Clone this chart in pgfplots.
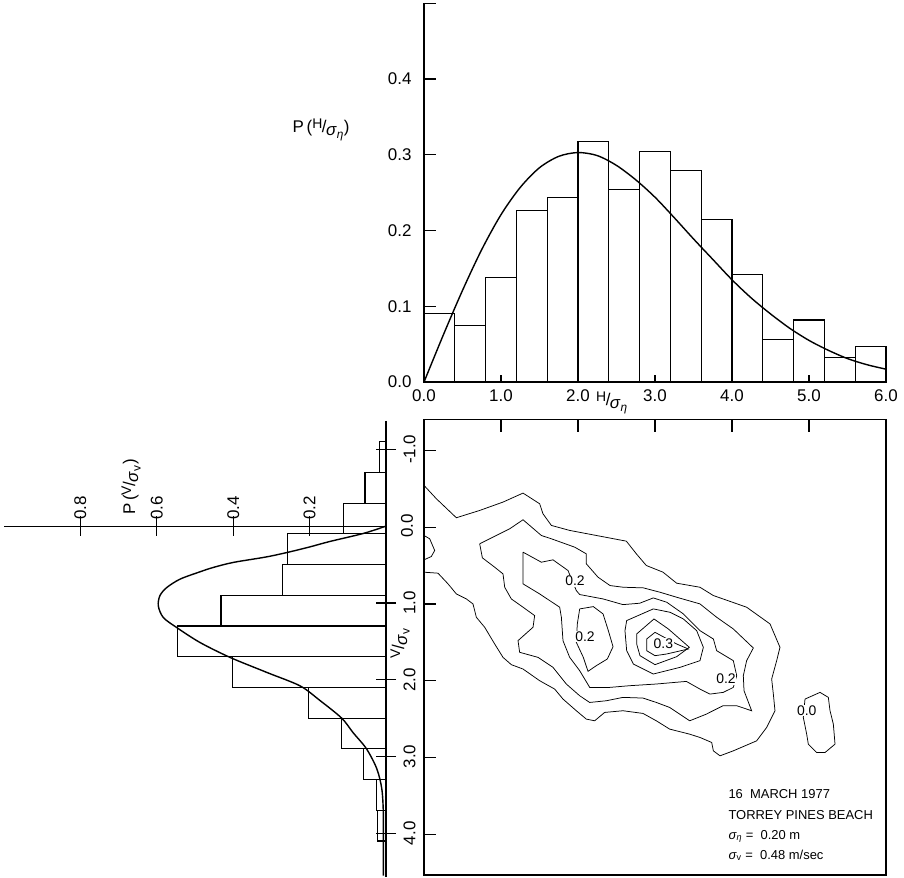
\documentclass[border=0pt]{standalone}
\usepackage{fontspec}
\setmainfont{Liberation Sans}
\usepackage{pgfplots}
\pgfplotsset{compat=1.18}
\newcommand{\fs}[1]{\fontsize{#1}{#1}\selectfont}
\tikzset{cont/.style={black, line width=0.75bp, mark=none}}
\begin{document}
\begin{tikzpicture}
\path (0,0) rectangle (904bp,-877bp);

% ---------------- top histogram P(H/sigma_eta) ----------------
\begin{axis}[
  at={(655bp,-192.6bp)}, anchor=center,
  scale only axis, width=462bp, height=378.75bp,
  xmin=0, xmax=6, ymin=0, ymax=0.5,
  axis x line*=bottom, axis y line*=left,
  axis line style={line width=1.2bp, black},
  xtick={0,1,2,3,4,5,6}, xticklabels={0.0,1.0,2.0,3.0,4.0,5.0,6.0},
  ytick={0,0.1,0.2,0.3,0.4,0.5}, yticklabels={0.0,0.1,0.2,0.3,0.4,{}},
  tick align=inside,
  xtick style={line width=1.2bp, black, /pgfplots/major tick length=7bp},
  ytick style={line width=1.2bp, black, /pgfplots/major tick length=12bp},
  tick label style={font=\fs{17}},
  yticklabel style={xshift=-9bp},
  xticklabel style={yshift=-4bp},
  clip=false,
]
\addplot[ybar interval, draw=black, fill=none, line width=1.1bp] coordinates {
(0,0.090) (0.4,0.075) (0.8,0.138) (1.2,0.226) (1.6,0.244) (2.0,0.318) (2.4,0.254) (2.8,0.304) (3.2,0.279) (3.6,0.215) (4.0,0.142) (4.4,0.056) (4.8,0.082) (5.2,0.032) (5.6,0.047) (6.0,0)};
\addplot[black, line width=1.4bp, smooth, mark=none] coordinates {
(0,0) (0.25,0.062) (0.5,0.121) (0.75,0.175) (1.0,0.221) (1.25,0.257) (1.5,0.283) (1.75,0.298) (2.0,0.303) (2.25,0.299) (2.5,0.286) (2.75,0.267) (3.0,0.244) (3.25,0.217) (3.5,0.189) (3.75,0.162) (4.0,0.135) (4.25,0.111) (4.5,0.090) (4.75,0.071) (5.0,0.055) (5.25,0.042) (5.5,0.031) (5.75,0.023) (6.0,0.017)};
\end{axis}

% ---------------- left histogram P(V/sigma_v) ----------------
\begin{axis}[
  at={(195bp,-648.9bp)}, anchor=center,
  scale only axis, width=382bp, height=456.2bp,
  xmin=0, xmax=1.0, x dir=reverse,
  ymin=-1.37, ymax=4.57, y dir=reverse,
  axis lines*=center,
  axis line style={line width=1.2bp, black},
  xtick={0.2,0.4,0.6,0.8}, xticklabels={0.2,0.4,0.6,0.8},
  ytick={-1,0,1,2,3,4}, yticklabels={-1.0,0.0,1.0,2.0,3.0,4.0},
  tick align=center, major tick length=20bp,
  tick style={line width=1.2bp, black},
  tick label style={font=\fs{17}},
  xticklabel style={rotate=90, anchor=west, xshift=13bp},
  yticklabel style={rotate=90, anchor=north, yshift=-24bp},
  clip=false,
]
\addplot[xbar interval, draw=black, fill=none, line width=1.1bp] coordinates {
(0.016,-1.1) (0.055,-0.7) (0.111,-0.3) (0.258,0.1) (0.270,0.5) (0.432,0.9) (0.545,1.3) (0.402,1.7) (0.202,2.1) (0.116,2.5) (0.059,2.9) (0.024,3.3) (0.022,3.7) (0,4.1)};
\addplot[black, line width=1.4bp, smooth, mark=none] coordinates {
(0,0) (0.059,0.095) (0.147,0.20) (0.199,0.27) (0.251,0.334) (0.312,0.40) (0.40,0.473) (0.452,0.538) (0.487,0.595) (0.539,0.69) (0.574,0.80) (0.592,0.907) (0.596,1.04) (0.583,1.19) (0.548,1.32) (0.487,1.515) (0.408,1.71) (0.312,1.905) (0.225,2.08) (0.173,2.27) (0.116,2.50) (0.086,2.69) (0.051,2.90) (0.024,3.16) (0.011,3.42) (0.007,3.73) (0.007,4.16) (0.007,4.55)};
\node[xshift=21bp, rotate=90, font=\fs{17}] at (axis cs:0,0) {0.0};
\end{axis}

% ---------------- joint contour plot ----------------
\begin{axis}[
  at={(655bp,-647.2bp)}, anchor=center,
  scale only axis, width=462bp, height=455.4bp,
  xmin=0, xmax=6, ymin=-1.40, ymax=4.53, y dir=reverse,
  axis line style={line width=1.2bp, black},
  xtick={1,2,3,4,5}, ytick={-1,0,1,2,3,4},
  xticklabels={}, yticklabels={},
  xtick pos=right, ytick pos=left,
  tick align=inside, major tick length=12bp,
  tick style={line width=1.2bp, black},
  clip=false,
]
% outer contour
\addplot[cont] coordinates {(0,-0.543) (0.160,-0.370) (0.420,-0.122) (0.723,-0.217) (1.026,-0.326) (1.286,-0.443) (1.502,-0.304) (1.545,-0.174) (1.654,-0.022) (1.892,0.043) (2.628,0.183) (2.758,0.348) (2.887,0.500) (3.104,0.587) (3.281,0.730) (3.584,0.783) (3.758,0.891) (4.190,1.043) (4.494,1.261) (4.623,1.565) (4.580,1.739) (4.515,1.978) (4.537,2.174) (4.558,2.391) (4.450,2.609) (4.320,2.783) (4.017,2.913) (3.844,2.978) (3.758,2.913) (3.736,2.804) (3.584,2.739) (3.450,2.696) (3.190,2.630) (3.017,2.522) (2.844,2.426) (2.584,2.391) (2.346,2.413) (2.216,2.522) (2.108,2.500) (1.978,2.391) (1.805,2.239) (1.697,2.109) (1.502,2.000) (1.286,1.848) (1.134,1.791) (1.026,1.696) (0.918,1.522) (0.788,1.304) (0.680,1.174) (0.636,1.000) (0.550,0.935) (0.420,0.870) (0.312,0.739) (0.182,0.600) (0,0.587)};
% small contour at left edge
\addplot[cont] coordinates {(0,0.109) (0.074,0.152) (0.139,0.304) (0.095,0.383) (0,0.426)};
% second contour
\addplot[cont] coordinates {(0.723,0.217) (0.853,0.152) (1.113,0.022) (1.286,-0.096) (1.524,0.109) (1.654,0.152) (1.957,0.261) (2.108,0.348) (2.108,0.478) (2.260,0.652) (2.416,0.761) (2.589,0.783) (2.848,0.791) (3.065,0.848) (3.281,0.913) (3.584,1.000) (3.801,1.174) (4.017,1.326) (4.277,1.574) (4.190,1.739) (4.147,1.935) (4.156,2.130) (4.255,2.391) (4.061,2.326) (3.883,2.326) (3.667,2.435) (3.450,2.522) (3.190,2.348) (3.017,2.283) (2.844,2.226) (2.584,2.217) (2.368,2.261) (2.152,2.283) (2.022,2.196) (1.848,2.043) (1.675,1.826) (1.481,1.696) (1.242,1.630) (1.221,1.478) (1.416,1.304) (1.437,1.152) (1.286,1.043) (1.134,0.935) (1.048,0.783) (1.026,0.609) (0.918,0.522) (0.758,0.400) (0.723,0.217)};
% 0.2 contour
\addplot[cont] coordinates {(1.286,0.326) (1.524,0.457) (1.675,0.426) (1.870,0.565) (1.978,0.826) (2.022,0.878) (2.325,0.935) (2.584,1.009) (2.801,0.991) (2.978,0.922) (3.152,0.978) (3.368,1.130) (3.584,1.348) (3.758,1.457) (3.801,1.609) (4.017,1.739) (4.061,1.935) (4.017,2.087) (3.887,2.152) (3.714,2.174) (3.584,2.109) (3.407,2.009) (3.017,2.043) (2.671,2.065) (2.411,2.087) (2.152,2.087) (2.022,1.870) (1.892,1.696) (1.805,1.478) (1.784,1.174) (1.762,1.043) (1.502,0.870) (1.286,0.739) (1.286,0.326)};
% 0.2 island
\addplot[cont] coordinates {(2.022,1.065) (2.199,1.035) (2.325,1.130) (2.394,1.348) (2.455,1.557) (2.381,1.717) (2.238,1.804) (2.130,1.878) (2.069,1.696) (1.978,1.500) (1.991,1.261) (2.022,1.065)};
% contours around the peak
\addplot[cont] coordinates {(2.610,1.348) (2.632,1.217) (2.978,1.065) (3.195,1.109) (3.368,1.196) (3.541,1.348) (3.628,1.565) (3.584,1.739) (3.325,1.826) (2.978,1.913) (2.719,1.783) (2.632,1.609) (2.610,1.348)};
\addplot[cont] coordinates {(2.762,1.391) (2.987,1.196) (3.173,1.326) (3.446,1.565) (3.281,1.687) (3.000,1.791) (2.805,1.674) (2.762,1.522) (2.762,1.391)};
\addplot[cont] coordinates {(2.892,1.457) (3.000,1.370) (3.281,1.522) (3.433,1.587) (3.152,1.652) (3.000,1.674) (2.892,1.609) (2.892,1.457)};
% right island
\addplot[cont] coordinates {(4.948,2.239) (5.143,2.152) (5.251,2.217) (5.273,2.391) (5.316,2.565) (5.338,2.826) (5.208,2.935) (5.100,2.935) (4.991,2.826) (4.970,2.696) (4.926,2.478) (4.948,2.239)};
% contour labels
\node[fill=white, inner sep=0.6bp, font=\fs{14}] at (axis cs:1.961,0.704) {0.2};
\node[fill=white, inner sep=0.6bp, font=\fs{14}] at (axis cs:2.091,1.422) {0.2};
\node[fill=white, inner sep=0.6bp, font=\fs{14}] at (axis cs:3.108,1.522) {0.3};
\node[fill=white, inner sep=0.6bp, font=\fs{14}] at (axis cs:3.922,1.978) {0.2};
\node[fill=white, inner sep=0.6bp, font=\fs{14}] at (axis cs:4.970,2.391) {0.0};
\end{axis}

% ---------------- axis titles and annotation ----------------
\node[font=\fs{17}] at (321bp,-130bp) {P\,(\raisebox{4bp}{\fs{14}H}\kern-0.5bp/\kern-0.5bp\raisebox{-3bp}{\textit{σ}\textsubscript{\textit{η}}})};
\node[font=\fs{17}] at (612bp,-403bp) {\raisebox{4bp}{\fs{14}H}\kern-0.5bp/\kern-0.5bp\raisebox{-3bp}{\textit{σ}\textsubscript{\textit{η}}}};
\node[font=\fs{17}, rotate=90] at (131bp,-487bp) {P\,(\raisebox{4bp}{\fs{14}V}\kern-0.5bp/\kern-0.5bp\raisebox{-3bp}{\textit{σ}\textsubscript{v}})};
\node[font=\fs{17}, rotate=90] at (400bp,-643bp) {\raisebox{4bp}{\fs{14}V}\kern-0.5bp/\kern-0.5bp\raisebox{-3bp}{\textit{σ}\textsubscript{v}}};
\node[anchor=base west, font=\fs{13}] at (725bp,-798bp) {16\ \ MARCH 1977};
\node[anchor=base west, font=\fs{13}] at (725bp,-819bp) {TORREY PINES BEACH};
\node[anchor=base west, font=\fs{13}] at (725bp,-839bp) {\textit{σ}\textsubscript{\textit{η}} =\ \ 0.20 m};
\node[anchor=base west, font=\fs{13}] at (725bp,-859bp) {\textit{σ}\textsubscript{v} =\ \ 0.48 m/sec};
\end{tikzpicture}
\end{document}
